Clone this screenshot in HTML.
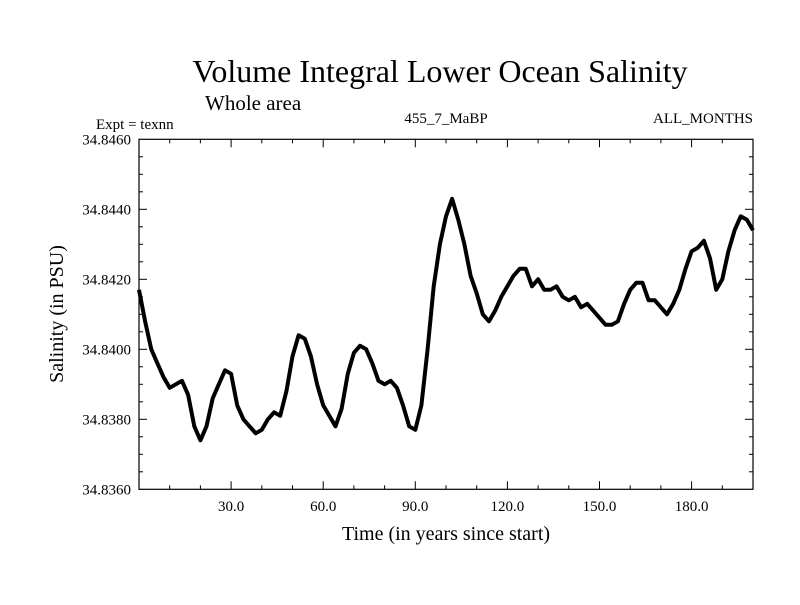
<!DOCTYPE html>
<html><head><meta charset="utf-8"><style>
body{margin:0;background:#fff}
svg text{font-family:"Liberation Serif",serif;fill:#000}
</style></head><body>
<svg id="chart" width="800" height="600" xmlns="http://www.w3.org/2000/svg">
<text x="440" y="82" font-size="32" text-anchor="middle">Volume Integral Lower Ocean Salinity</text>
<text x="205" y="110" font-size="21">Whole area</text>
<text x="96" y="129" font-size="15">Expt = texnn</text>
<text x="446" y="123" font-size="15" text-anchor="middle">455_7_MaBP</text>
<text x="753" y="123" font-size="15" text-anchor="end">ALL_MONTHS</text>
<text x="446" y="540" font-size="20" text-anchor="middle">Time (in years since start)</text>
<text transform="translate(63,314) rotate(-90)" font-size="20" text-anchor="middle">Salinity (in PSU)</text>
<rect x="139" y="139.3" width="614" height="350" fill="none" stroke="#000" stroke-width="1.2"/>
<g id="ticks"></g>
<g id="series"></g>
</svg>
<script>
const years = [];
for (let i = 0; i <= 200; i += 2) years.push(i);
const salinity = [34.8417,34.8408,34.8400,34.8396,34.8392,34.8389,34.8390,34.8391,34.8387,34.8378,34.8374,34.8378,34.8386,34.8390,34.8394,34.8393,34.8384,34.8380,34.8378,34.8376,34.8377,34.8380,34.8382,34.8381,34.8388,34.8398,34.8404,34.8403,34.8398,34.8390,34.8384,34.8381,34.8378,34.8383,34.8393,34.8399,34.8401,34.8400,34.8396,34.8391,34.8390,34.8391,34.8389,34.8384,34.8378,34.8377,34.8384,34.8400,34.8418,34.8430,34.8438,34.8443,34.8437,34.8430,34.8421,34.8416,34.8410,34.8408,34.8411,34.8415,34.8418,34.8421,34.8423,34.8423,34.8418,34.8420,34.8417,34.8417,34.8418,34.8415,34.8414,34.8415,34.8412,34.8413,34.8411,34.8409,34.8407,34.8407,34.8408,34.8413,34.8417,34.8419,34.8419,34.8414,34.8414,34.8412,34.8410,34.8413,34.8417,34.8423,34.8428,34.8429,34.8431,34.8426,34.8417,34.8420,34.8428,34.8434,34.8438,34.8437,34.8434];
const xTickValues = [30,60,90,120,150,180];
const xTickLabels = ["30.0","60.0","90.0","120.0","150.0","180.0"];
const yTickValues = [34.836,34.838,34.840,34.842,34.844,34.846];
const yTickLabels = ["34.8360","34.8380","34.8400","34.8420","34.8440","34.8460"];

const X0=139,X1=753,Y0=489.3,Y1=139.3;
const xs = v => X0 + (v-0)/(200-0)*(X1-X0);
const ys = v => Y0 - (v-34.836)/(34.846-34.836)*(Y0-Y1);
const NS="http://www.w3.org/2000/svg";
const tg=document.getElementById('ticks');
function line(x1,y1,x2,y2,name){
  const l=document.createElementNS(NS,'line');
  l.setAttribute('x1',x1);l.setAttribute('y1',y1);l.setAttribute('x2',x2);l.setAttribute('y2',y2);
  l.setAttribute('stroke','#000');l.setAttribute('stroke-width','1');
  
  
  tg.appendChild(l);
}
for(let v=10;v<200;v+=10){
  const major=v%30===0, len=major?8:4, x=xs(v);
  line(x,Y0,x,Y0-len,'x-tick');
  line(x,Y1,x,Y1+len,'x-tick-top');
}
for(let k=1;k<20;k++){
  const v=34.836+k*0.0005, major=k%4===0, len=major?8:4, y=ys(v);
  line(X0,y,X0+len,y,'y-tick');
  line(X1,y,X1-len,y,'y-tick-right');
}
xTickValues.forEach((v,i)=>{
  const t=document.createElementNS(NS,'text');
  t.setAttribute('x',xs(v));t.setAttribute('y',511);t.setAttribute('font-size','15');t.setAttribute('text-anchor','middle');
  t.textContent=xTickLabels[i];
  
  
  tg.appendChild(t);
});
yTickValues.forEach((v,i)=>{
  const t=document.createElementNS(NS,'text');
  t.setAttribute('x',131);t.setAttribute('y',ys(v)+5);t.setAttribute('font-size','15');t.setAttribute('text-anchor','end');
  t.textContent=yTickLabels[i];
  
  
  tg.appendChild(t);
});
const p=document.createElementNS(NS,'path');
p.setAttribute('d',years.map((yr,i)=>(i?'L':'M')+xs(yr).toFixed(1)+' '+ys(salinity[i]).toFixed(1)).join(' '));
p.setAttribute('fill','none');p.setAttribute('stroke','#000');p.setAttribute('stroke-width','4');p.setAttribute('stroke-linejoin','round');


document.getElementById('series').appendChild(p);
</script>
</body></html>
